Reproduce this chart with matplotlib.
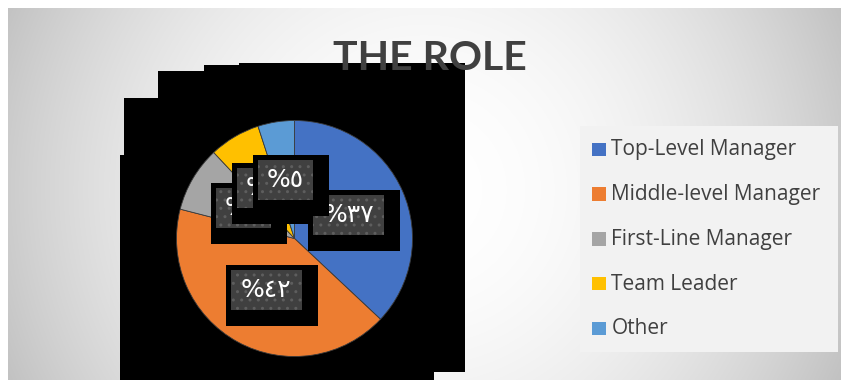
import numpy as np
import matplotlib
matplotlib.use("Agg")
import matplotlib.pyplot as plt
from matplotlib.patches import Rectangle

# ---- data ----
categories = ["Top-Level Manager", "Middle-level Manager", "First-Line Manager",
              "Team Leader", "Other"]
values = [37, 42, 9, 7, 5]
labels = ["%٣٧", "%٤٢", "%٩", "%٧", "%٥"]
colors = ["#4472C4", "#ED7D31", "#A5A5A5", "#FFC000", "#5B9BD5"]
title = "THE ROLE"

W, H = 841, 380
fig = plt.figure(figsize=(W / 100, H / 100), dpi=100)
fig.patch.set_facecolor("white")

# ---- background (pixel coords) ----
bg = fig.add_axes([0, 0, 1, 1])
bg.set_xlim(0, W)
bg.set_ylim(H, 0)
bg.axis("off")
x0, y0, x1, y1 = 8, 8, 841, 380
xs = np.arange(x0, x1) + 0.5
ys = np.arange(y0, y1) + 0.5
X, Y = np.meshgrid(xs, ys)
cx, cy = 424, 190
t = np.sqrt((X - cx) ** 2 + (Y - cy) ** 2) / 460.0
g = 255 - 62 * np.clip(t, 0, 1) ** 2
img = np.dstack([g, g, g]) / 255.0
bg.imshow(img, extent=[x0, x1, y1, y0], interpolation="bilinear", zorder=0)

# black artifact blocks
blocks = [(120, 155, 434, 380), (124, 98, 465, 372), (158, 70.7, 465, 372),
          (204, 64.7, 465, 372), (239, 63.3, 465, 372)]
for (a, b, c, d) in blocks:
    bg.add_patch(Rectangle((a, b), c - a, d - b, facecolor="black",
                           edgecolor="none", zorder=1))

# legend box
bg.add_patch(Rectangle((580, 126), 258, 226, facecolor="#F2F2F2",
                       edgecolor="none", zorder=1))
leg_y0, leg_dy = 149.3, 44.75
for i, (cat, col) in enumerate(zip(categories, colors)):
    yy = leg_y0 + i * leg_dy
    bg.add_patch(Rectangle((592.3, yy - 6.7), 13.4, 13.4, facecolor=col,
                           edgecolor="none", zorder=2))
    bg.text(611.5, yy + 0.5, cat, fontsize=15, color="#404040",
            va="center", ha="left", family="Open Sans", zorder=3)

# title
bg.text(430, 59, title, fontsize=29.5, fontweight="bold", color="#404040",
        ha="center", va="center", family="Lato", zorder=10)

# ---- pie ----
pcx, pcy, R = 294.5, 238.5, 118
ax = fig.add_axes([(pcx - R) / W, (H - pcy - R) / H, 2 * R / W, 2 * R / H])
ax.axis("off")
wedges, _ = ax.pie(values, colors=colors, startangle=90, counterclock=False,
                   radius=1, wedgeprops=dict(edgecolor="#3a3a3a", linewidth=0.6))
ax.set_xlim(-1, 1)
ax.set_ylim(-1, 1)

s = 1.0 / R  # pixel -> data unit
for i, (w, lab) in enumerate(zip(wedges, labels)):
    mid = np.deg2rad((w.theta1 + w.theta2) / 2)
    lx, ly = 0.5 * np.cos(mid), 0.5 * np.sin(mid)
    iw = 71 if len(lab) > 2 else 55
    ih = 40
    ax.add_patch(Rectangle((lx - (iw / 2 + 5) * s, ly - (ih / 2 + 16) * s),
                           (iw + 21) * s, (ih + 21) * s, facecolor="black",
                           edgecolor="none", zorder=5 + i * 3))
    ax.add_patch(Rectangle((lx - iw / 2 * s, ly - ih / 2 * s), iw * s, ih * s,
                           facecolor="#404040", edgecolor="none",
                           zorder=6 + i * 3))
    ax.add_patch(Rectangle((lx - iw / 2 * s, ly - ih / 2 * s), iw * s, ih * s,
                           facecolor="none", edgecolor="#5E5E5E", hatch="..",
                           linewidth=0, zorder=6.5 + i * 3))
    ax.text(lx, ly, lab, fontsize=18, color="white", ha="center", va="center",
            family="DejaVu Sans", zorder=7 + i * 3)

fig.savefig("out.png", dpi=100)
